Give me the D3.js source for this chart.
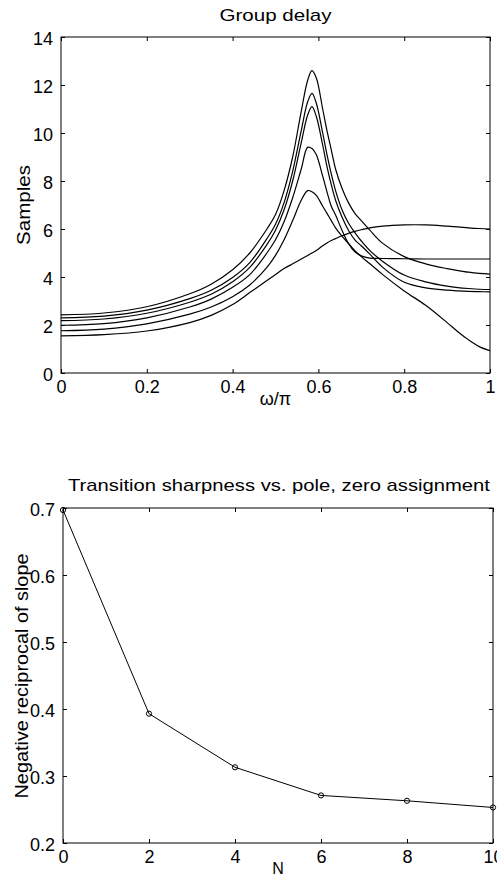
<!doctype html>
<html lang="en">
<head>
<meta charset="utf-8">
<title>Group delay / Transition sharpness</title>
<script src="https://cdn.jsdelivr.net/npm/d3@7"></script>
<style>
  body { margin: 0; background: #fff; }
  svg { display: block; }
  text { font-family: "Liberation Sans", Arial, Helvetica, sans-serif; fill: #000; }
  .tick line { stroke: #000; }
  .tick text { font-size: 18px; }
</style>
</head>
<body>
<div id="viz"></div>
<script>
// ---- data ----
// top panel: group delay (samples) vs omega/pi, six filters
var omega = [0, 0.1, 0.2, 0.3, 0.35, 0.4, 0.44, 0.48, 0.5, 0.52, 0.54, 0.56, 0.575, 0.585, 0.595,
             0.61, 0.62, 0.63, 0.64, 0.655, 0.67, 0.685, 0.7, 0.72, 0.75, 0.8, 0.85, 0.9, 0.925, 0.95, 0.975, 1];
var delay1 = [2.42, 2.5, 2.76, 3.3, 3.7, 4.3, 5.0, 6.0, 6.6, 7.6, 9.0, 10.9, 12.2, 12.6, 12.3,
              11.0, 10.1, 9.3, 8.5, 7.7, 7.1, 6.65, 6.35, 5.95, 5.4, 4.85, 4.55, 4.35, 4.27, 4.2, 4.15, 4.12];
var delay2 = [2.3, 2.37, 2.62, 3.1, 3.45, 3.98, 4.6, 5.6, 6.2, 7.1, 8.4, 10.1, 11.3, 11.65, 11.25,
              10.0, 9.1, 8.3, 7.6, 6.8, 6.25, 5.85, 5.5, 5.1, 4.65, 4.08, 3.8, 3.62, 3.56, 3.52, 3.49, 3.48];
var delay3 = [2.18, 2.25, 2.49, 2.95, 3.28, 3.8, 4.4, 5.35, 5.95, 6.8, 8.0, 9.6, 10.75, 11.1, 10.7,
              9.5, 8.6, 7.85, 7.2, 6.5, 5.95, 5.55, 5.3, 4.95, 4.4, 3.78, 3.55, 3.45, 3.42, 3.4, 3.39, 3.38];
var delay4 = [1.99, 2.06, 2.3, 2.75, 3.08, 3.57, 4.1, 5.0, 5.55, 6.3, 7.3, 8.5, 9.4, 9.35, 9.1,
              8.2, 7.55, 6.95, 6.58, 5.95, 5.4, 5.05, 4.88, 4.79, 4.77, 4.76, 4.75, 4.75, 4.75, 4.75, 4.75, 4.75];
var delay5 = [1.76, 1.83, 2.05, 2.45, 2.75, 3.18, 3.67, 4.4, 4.9, 5.55, 6.35, 7.2, 7.6, 7.55, 7.4,
              6.95, 6.65, 6.35, 6.05, 5.7, 5.4, 5.1, 4.85, 4.55, 4.1, 3.42, 2.82, 2.1, 1.72, 1.38, 1.1, 0.93];
var delay6 = [1.55, 1.6, 1.75, 2.1, 2.4, 2.85, 3.35, 3.85, 4.1, 4.35, 4.55, 4.75, 4.9, 5.0, 5.1,
              5.3, 5.42, 5.52, 5.6, 5.72, 5.82, 5.9, 5.97, 6.05, 6.12, 6.17, 6.17, 6.12, 6.09, 6.05, 6.02, 6.0];
var delayTicksX = [0, 0.2, 0.4, 0.6, 0.8, 1];
var delayTicksY = [0, 2, 4, 6, 8, 10, 12, 14];

// bottom panel: negative reciprocal of slope vs N
var nValues = [0, 2, 4, 6, 8, 10];
var sharpness = [0.697, 0.393, 0.313, 0.271, 0.263, 0.253];
var sharpTicksX = [0, 2, 4, 6, 8, 10];
var sharpTicksY = [0.2, 0.3, 0.4, 0.5, 0.6, 0.7];

var w = 497, h = 886;
var svg = d3.select("#viz").append("svg").attr("width", w).attr("height", h);

// draws a MATLAB-style boxed axes with inward ticks on all four sides
function boxAxes(g, x, y, xTicks, yTicks, yFormat) {
  var x0 = x.range()[0], x1 = x.range()[1], y0 = y.range()[0], y1 = y.range()[1];
  var tick = 4;

  g.append("g").attr("transform", "translate(0," + y0 + ")")
    .call(d3.axisBottom(x).tickValues(xTicks).tickSizeInner(-tick).tickSizeOuter(0).tickPadding(tick + 3).tickFormat(d3.format("")))
    .call(s => s.select(".domain").remove());
  g.append("g").attr("transform", "translate(0," + y1 + ")")
    .call(d3.axisTop(x).tickValues(xTicks).tickSizeInner(-tick).tickSizeOuter(0).tickFormat(""))
    .call(s => s.select(".domain").remove());
  g.append("g").attr("transform", "translate(" + x0 + ",0)")
    .call(d3.axisLeft(y).tickValues(yTicks).tickSizeInner(-tick).tickSizeOuter(0).tickPadding(tick + 4).tickFormat(yFormat))
    .call(s => s.select(".domain").remove())
    .call(s => s.selectAll(".tick text").attr("dy", "0.42em"));
  g.append("g").attr("transform", "translate(" + x1 + ",0)")
    .call(d3.axisRight(y).tickValues(yTicks).tickSizeInner(-tick).tickSizeOuter(0).tickFormat(""))
    .call(s => s.select(".domain").remove());

  g.append("rect")
    .attr("x", x0).attr("y", y1)
    .attr("width", x1 - x0).attr("height", y0 - y1)
    .attr("fill", "none").attr("stroke", "#000").attr("stroke-width", 1);
}

// ---- top: group delay ----
var xTop = d3.scaleLinear().domain([0, 1]).range([61, 490]);
var yTop = d3.scaleLinear().domain([0, 14]).range([373, 37]);
var gTop = svg.append("g");

var delayLine = d3.line()
  .x((d, i) => xTop(omega[i]))
  .y(d => yTop(d))
  .curve(d3.curveCatmullRom.alpha(0.5));

gTop.selectAll("path.delay")
  .data([delay1, delay2, delay3, delay4, delay5, delay6])
  .enter().append("path")
  .attr("class", "delay")
  .attr("d", d => delayLine(d))
  .attr("fill", "none")
  .attr("stroke", "#000")
  .attr("stroke-width", 1.2);

boxAxes(gTop, xTop, yTop, delayTicksX, delayTicksY, d3.format("d"));

gTop.append("text").attr("x", 275.5).attr("y", 21)
  .attr("text-anchor", "middle").style("font-size", "17px")
  .attr("textLength", 112).attr("lengthAdjust", "spacingAndGlyphs")
  .text("Group delay");
gTop.append("text").attr("transform", "translate(30,205) rotate(-90)")
  .attr("text-anchor", "middle").style("font-size", "18px")
  .attr("textLength", 80).attr("lengthAdjust", "spacingAndGlyphs")
  .text("Samples");
gTop.append("text").attr("x", 275.5).attr("y", 405)
  .attr("text-anchor", "middle").style("font-size", "18px")
  .text("ω/π");

// ---- bottom: transition sharpness ----
var xBot = d3.scaleLinear().domain([0, 10]).range([63, 493]);
var yBot = d3.scaleLinear().domain([0.2, 0.7]).range([843, 508]);
var gBot = svg.append("g");

var sharpLine = d3.line()
  .x((d, i) => xBot(nValues[i]))
  .y(d => yBot(d));

gBot.append("path")
  .attr("d", sharpLine(sharpness))
  .attr("fill", "none")
  .attr("stroke", "#000")
  .attr("stroke-width", 1);

gBot.selectAll("circle")
  .data(sharpness)
  .enter().append("circle")
  .attr("cx", (d, i) => xBot(nValues[i]))
  .attr("cy", d => yBot(d))
  .attr("r", 2.6)
  .attr("fill", "none")
  .attr("stroke", "#000")
  .attr("stroke-width", 1);

boxAxes(gBot, xBot, yBot, sharpTicksX, sharpTicksY, d3.format(".1f"));

gBot.append("text").attr("x", 279).attr("y", 491)
  .attr("text-anchor", "middle").style("font-size", "17px")
  .attr("textLength", 422).attr("lengthAdjust", "spacingAndGlyphs")
  .text("Transition sharpness vs. pole, zero assignment");
gBot.append("text").attr("transform", "translate(28,676) rotate(-90)")
  .attr("text-anchor", "middle").style("font-size", "18px")
  .attr("textLength", 245).attr("lengthAdjust", "spacingAndGlyphs")
  .text("Negative reciprocal of slope");
gBot.append("text").attr("x", 278).attr("y", 874)
  .attr("text-anchor", "middle").style("font-size", "16px")
  .text("N");
</script>
</body>
</html>
